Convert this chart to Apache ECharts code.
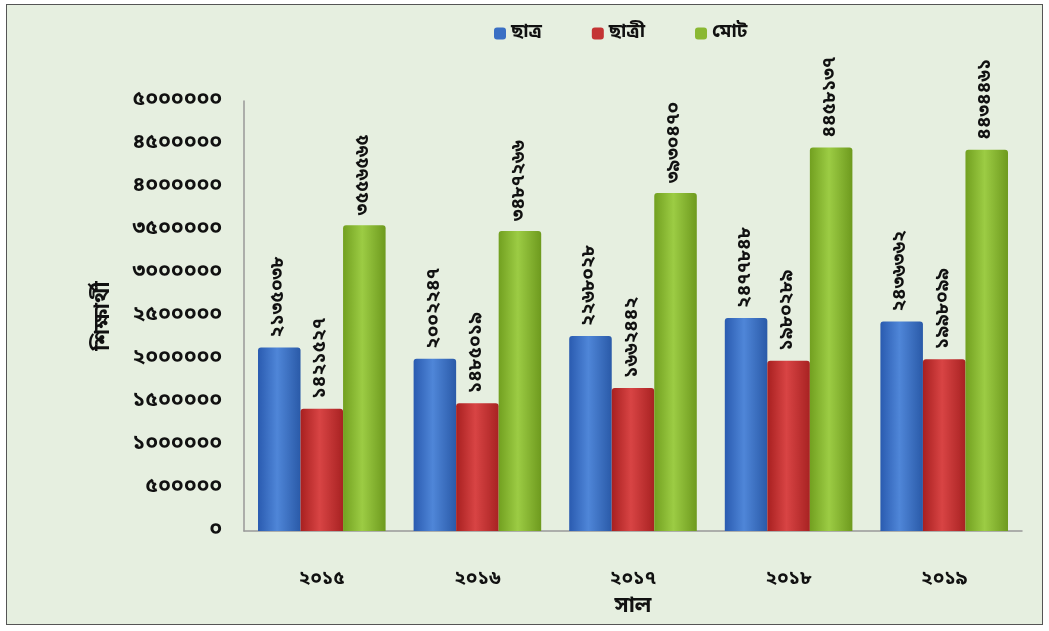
<!DOCTYPE html>
<html><head><meta charset="utf-8">
<script src="https://cdn.jsdelivr.net/npm/echarts@6/dist/echarts.min.js"></script>
<style>html,body{margin:0;padding:0;background:#fff}#c{position:absolute;left:6px;top:4px;width:1037px;height:621px;border:1.5px solid #555;box-sizing:border-box;background:#e6efe0}</style>
</head><body><div id="c"></div>
<script>
const categories = ['2015','2016','2017','2018','2019'];
const seriesNames = ['ছাত্র','ছাত্রী','মোট'];
const boys = [2135038, 2002247, 2268028, 2477848, 2436362];
const girls = [1421527, 1485019, 1662442, 1980289, 1998099];
const total = [3556565, 3487266, 3930470, 4458137, 4434461];
const yTicks = [0, 500000, 1000000, 1500000, 2000000, 2500000, 3000000, 3500000, 4000000, 4500000, 5000000];

const bn = s => String(s).replace(/[0-9]/g, d => '০১২৩৪৫৬৭৮৯'[+d]);
const font = "'Noto Sans Bengali','Lohit Bengali','Noto Sans','DejaVu Sans',sans-serif";
function grad(c1, c2, c3){
  return {type:'linear',x:0,y:0,x2:1,y2:0,colorStops:[{offset:0,color:c1},{offset:0.45,color:c2},{offset:1,color:c3}]};
}
const colors = [grad('#2a5bb0','#4f86d8','#2a5aa8'), grad('#a82020','#d84444','#a82222'), grad('#72a020','#9ccc44','#6e9a1e')];
const legendColors = ['#3a6fc4','#c43434','#8ab832'];
const datas = [boys, girls, total];
const chart = echarts.init(document.getElementById('c'));
chart.setOption({
  backgroundColor:'#e6efe0',
  animation:false,
  legend:{top:14,left:482,itemWidth:12,itemHeight:12,itemGap:50,
    textStyle:{fontSize:19,fontWeight:'bold',color:'#111',fontFamily:font},
    data:seriesNames.map((n,i)=>({name:n,itemStyle:{color:legendColors[i]}}))},
  grid:{left:237,right:20,top:96,bottom:90,containLabel:false},
  xAxis:{type:'category',data:categories,name:'সাল',nameLocation:'middle',nameGap:66,
    nameTextStyle:{fontSize:22,fontWeight:'bold',color:'#111',fontFamily:font},
    axisLine:{lineStyle:{color:'#999',width:1.5}},axisTick:{show:false},
    axisLabel:{formatter:v=>bn(v),fontSize:19,fontWeight:'bold',color:'#111',margin:40,fontFamily:font}},
  yAxis:{type:'value',min:yTicks[0],max:yTicks[yTicks.length-1],interval:yTicks[1]-yTicks[0],
    name:'শিক্ষার্থী',nameLocation:'middle',nameGap:128,nameRotate:90,
    nameTextStyle:{fontSize:22,fontWeight:'bold',color:'#111',fontFamily:font},
    axisLine:{show:true,lineStyle:{color:'#999',width:1.5}},axisTick:{show:false},splitLine:{show:false},
    axisLabel:{formatter:v=>bn(v),fontSize:21,fontWeight:'bold',color:'#111',margin:22,fontFamily:font}},
  series:seriesNames.map((n,i)=>({
    name:n,type:'bar',data:datas[i],barGap:'0%',barCategoryGap:'18%',
    itemStyle:{color:colors[i],borderRadius:[3,3,0,0]},
    label:{show:true,position:'top',rotate:90,align:'left',verticalAlign:'middle',distance:10,
      formatter:p=>bn(p.value),fontSize:19,fontWeight:'bold',color:'#111',fontFamily:font}
  }))
});
</script></body></html>
